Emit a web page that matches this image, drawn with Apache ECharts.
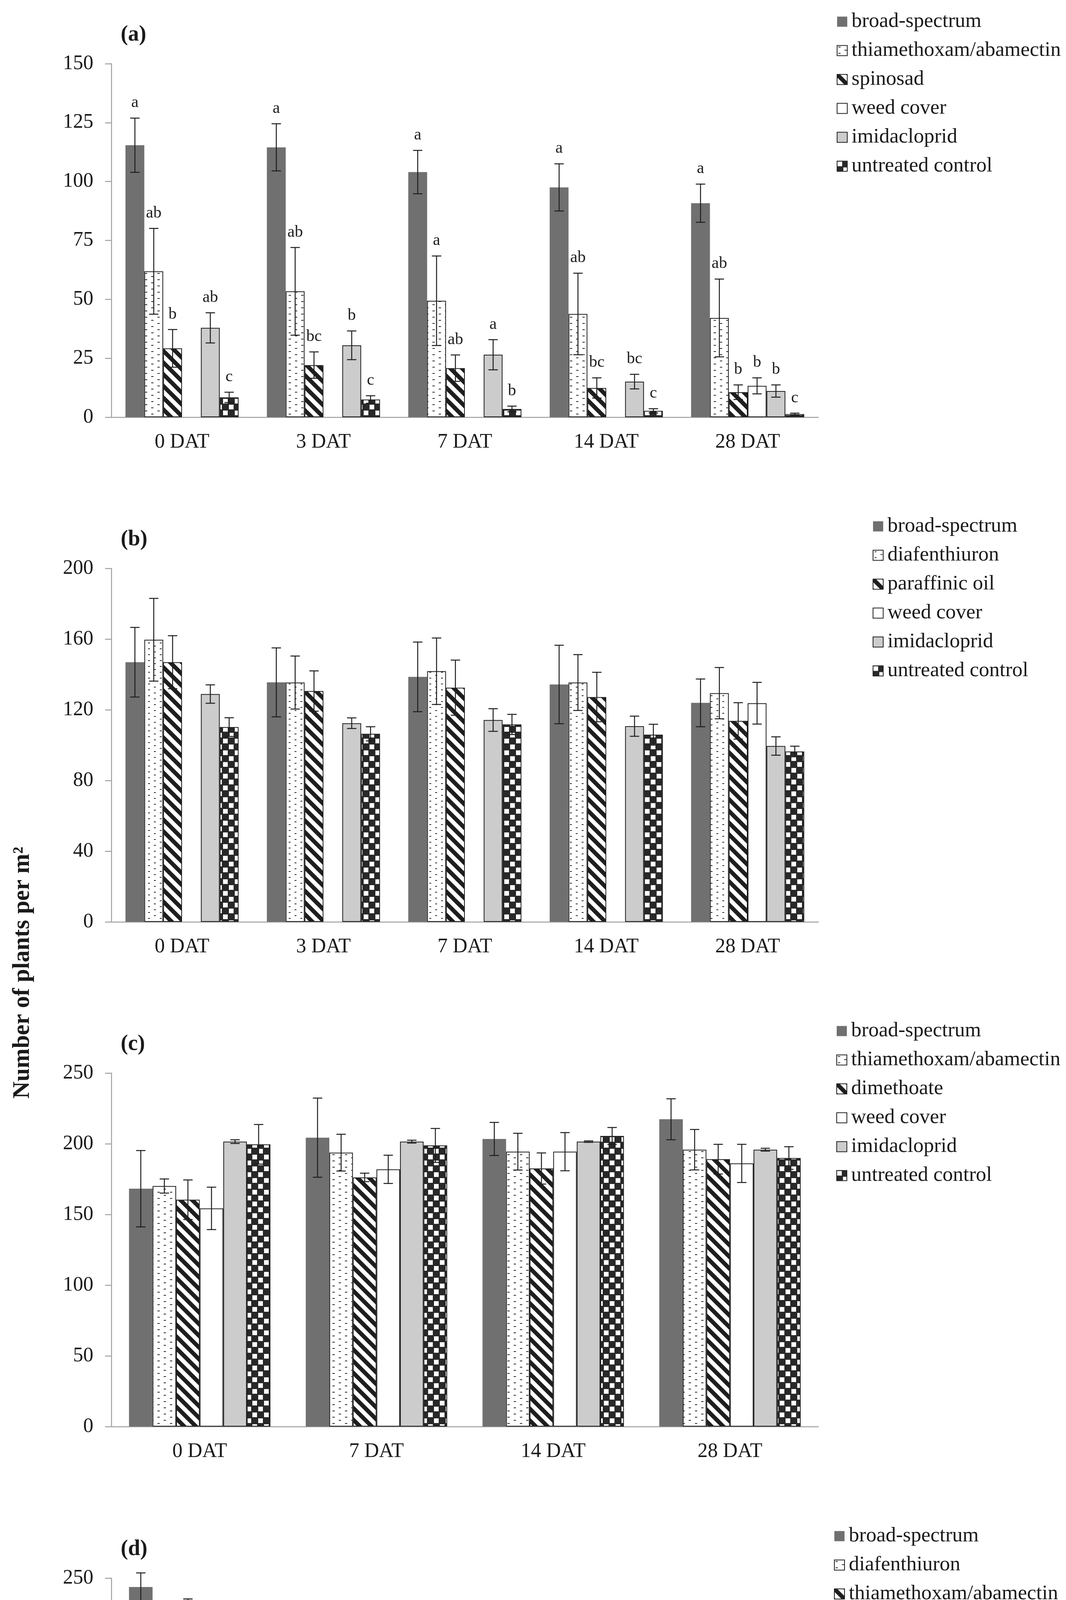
<!DOCTYPE html>
<html><head><meta charset="utf-8">
<script src="https://cdn.jsdelivr.net/npm/echarts@6/dist/echarts.min.js"></script>
<style>html,body{margin:0;padding:0;background:#fff}#c{width:2729px;height:5173px}</style>
</head><body><div id="c"></div>
<script>
// ---------- DATA ----------
const catsA = ['0 DAT','3 DAT','7 DAT','14 DAT','28 DAT'];
const namesA = ['broad-spectrum','thiamethoxam/abamectin','spinosad','weed cover','imidacloprid','untreated control'];
const meansA = [
  [115.4,114.5,104.0,97.5,90.8],
  [61.9,53.4,49.4,43.8,42.1],
  [29.2,22.1,20.8,12.4,10.6],
  [null,null,null,null,13.3],
  [37.9,30.5,26.5,15.1,11.1],
  [8.4,7.5,3.5,2.7,1.3]
];
const errA = [
  [11.5,10,9.2,10,8.1],
  [18.2,18.6,19,17.3,16.5],
  [8,5.6,5.6,4.3,3.1],
  [null,null,null,null,3.4],
  [6.4,6.1,6.4,3.1,2.6],
  [2.2,1.6,1.2,0.9,0.4]
];
const lettersA = [
  ['a','a','a','a','a'],
  ['ab','ab','a','ab','ab'],
  ['b','bc','ab','bc','b'],
  ['','','','','b'],
  ['ab','b','a','bc','b'],
  ['c','c','b','c','c']
];

const catsB = ['0 DAT','3 DAT','7 DAT','14 DAT','28 DAT'];
const namesB = ['broad-spectrum','diafenthiuron','paraffinic oil','weed cover','imidacloprid','untreated control'];
const meansB = [
  [146.9,135.5,138.6,134.3,123.9],
  [159.6,135.4,141.8,135.4,129.4],
  [146.9,130.6,132.5,127.2,113.7],
  [null,null,null,null,123.7],
  [128.9,112.4,114.2,110.7,99.5],
  [110.2,106.4,111.7,105.9,96.4]
];
const errB = [
  [19.7,19.5,19.7,22.2,13.5],
  [23.4,15,18.8,15.8,14.5],
  [15,11.4,15.6,14,10.3],
  [null,null,null,null,11.8],
  [5.2,3,6.4,5.7,5.2],
  [5.3,4,5.7,5.9,3]
];

const catsC = ['0 DAT','7 DAT','14 DAT','28 DAT'];
const namesC = ['broad-spectrum','thiamethoxam/abamectin','dimethoate','weed cover','imidacloprid','untreated control'];
const meansC = [
  [168.2,204.3,203.4,217.3],
  [170.1,193.7,194.4,195.8],
  [160.4,176.2,182.5,189.1],
  [154.3,181.9,194.4,186.1],
  [201.5,201.5,201.5,195.8],
  [199.6,198.8,205.5,189.9]
];
const errC = [
  [27,28,11.7,14.5],
  [5,13,13,14.3],
  [14,3,11,10.5],
  [15,10,13.5,13.5],
  [1.3,1,0.5,1],
  [14,12,6,8]
];

const catsD = ['0 DAT','7 DAT','14 DAT','28 DAT'];
const namesD = ['broad-spectrum','diafenthiuron','thiamethoxam/abamectin','weed cover','imidacloprid','untreated control'];
const meansD = [
  [243.7,208.3,212.7,212.0],
  [207.4,198.5,208.1,198.5],
  [231.8,216.2,207.4,205.0],
  [210.2,202.0,197.6,196.4],
  [191.1,209.5,226.0,198.5],
  [197.8,208.1,200.1,191.1]
];
const errD = [
  [10,9.4,9,8.5],
  [20.6,10.3,14,10.4],
  [3.5,13,7,5],
  [5.5,3,3,5.6],
  [1.2,1,1,1],
  [8,11.7,8,5.3]
];

// ---------- PATTERNS ----------
const INK = '#1e1e1e';
function makeCanvas(w,h,draw){const c=document.createElement('canvas');c.width=w;c.height=h;draw(c.getContext('2d'),w,h);return c;}
const stripeImg = makeCanvas(30,30,(g,w,h)=>{g.fillStyle='#fff';g.fillRect(0,0,w,h);g.strokeStyle=INK;g.lineWidth=10.6;g.lineCap='square';
  for(const o of [-30,0,30]){g.beginPath();g.moveTo(o-6,-6);g.lineTo(o+36,36);g.stroke();}});
const checkImg = makeCanvas(30,30,(g,w,h)=>{g.fillStyle='#282828';g.fillRect(0,0,w,h);g.fillStyle='#fff';g.fillRect(1,1,12,12);g.fillRect(16,16,12,12);});
const dashImg = makeCanvas(32,16,(g,w,h)=>{g.fillStyle='#fff';g.fillRect(0,0,w,h);g.fillStyle='#2a2a2a';g.fillRect(3,3,6,2);g.fillRect(19,11,6,2);});
const dotImg = makeCanvas(30,15,(g,w,h)=>{g.fillStyle='#fff';g.fillRect(0,0,w,h);g.fillStyle='#2a2a2a';g.fillRect(4,3,5,2);g.fillRect(19,10,5,2);});

function styleFor(kind){
  switch(kind){
    case 'solid': return {color:'#707070', borderWidth:0};
    case 'dash': return {color:{image:dashImg,repeat:'repeat'}, borderColor:INK, borderWidth:2};
    case 'dot': return {color:{image:dotImg,repeat:'repeat'}, borderColor:INK, borderWidth:2};
    case 'stripe': return {color:{image:stripeImg,repeat:'repeat'}, borderColor:INK, borderWidth:2};
    case 'white': return {color:'#ffffff', borderColor:INK, borderWidth:2};
    case 'gray': return {color:'#cccccc', borderColor:INK, borderWidth:2};
    case 'checker': return {color:{image:checkImg,repeat:'repeat'}, borderColor:INK, borderWidth:2};
  }
}

const panels = [
  {key:'a', tag:'(a)', cats:catsA, names:namesA, means:meansA, errs:errA, letters:lettersA, max:150, interval:25,
   kinds:['solid','dash','stripe','white','gray','checker'], top:163, legendLeft:2137},
  {key:'b', tag:'(b)', cats:catsB, names:namesB, means:meansB, errs:errB, letters:null, max:200, interval:40,
   kinds:['solid','dot','stripe','white','gray','checker'], top:1455, legendLeft:2229},
  {key:'c', tag:'(c)', cats:catsC, names:namesC, means:meansC, errs:errC, letters:null, max:250, interval:50,
   kinds:['solid','dash','stripe','white','gray','checker'], top:2747, legendLeft:2136},
  {key:'d', tag:'(d)', cats:catsD, names:namesD, means:meansD, errs:errD, letters:null, max:250, interval:50,
   kinds:['solid','dash','stripe','white','gray','checker'], top:4040, legendLeft:2130}
];

const FONT = '"Liberation Serif", "Times New Roman", serif';
const grid=[], xAxis=[], yAxis=[], series=[], legend=[], graphic=[];
const PH = 905;

panels.forEach((p, pi)=>{
  grid.push({left:285, width:1810, top:p.top, height:PH});
  xAxis.push({type:'category', gridIndex:pi, data:p.cats,
    axisTick:{show:false},
    axisLine:{lineStyle:{color:'#a0a0a0', width:2.5}},
    axisLabel:{fontFamily:FONT, fontSize:52, color:'#1a1a1a', margin:38}});
  yAxis.push({type:'value', gridIndex:pi, min:0, max:p.max, interval:p.interval,
    splitLine:{show:false},
    axisLine:{show:true, lineStyle:{color:'#a0a0a0', width:2.5}},
    axisTick:{show:true, length:16, lineStyle:{color:'#a0a0a0', width:2.5}},
    axisLabel:{fontFamily:FONT, fontSize:52, color:'#1a1a1a', margin:46}});
  const nSer = p.names.length;
  p.names.forEach((nm,k)=>{
    series.push({type:'bar', name:p.key+'|'+nm, xAxisIndex:pi, yAxisIndex:pi,
      barGap:'0%', barCategoryGap:'20%', z:2,
      itemStyle:styleFor(p.kinds[k]),
      data:p.means[k].map(v=> v==null ? '-' : v)});
  });
  const items=[];
  p.means.forEach((arr,k)=>arr.forEach((m,i)=>{
    if(m==null) return;
    const e=p.errs[k][i];
    items.push({value:[i,k,m-e,m+e], letter: p.letters ? p.letters[k][i] : ''});
  }));
  series.push({type:'custom', name:p.key+'-err', xAxisIndex:pi, yAxisIndex:pi, z:5, clip:false,
    encode:{x:0, y:[2,3]},
    data:items.map(it=>it.value),
    renderItem:(params, api)=>{
      const it = items[params.dataIndex];
      const cat=api.value(0), k=api.value(1), lo=api.value(2), hi=api.value(3);
      const c=api.coord([cat,0]);
      const catW=api.size([1,0])[0];
      const barW=catW*0.8/nSer;
      const x=c[0]-catW*0.4+(k+0.5)*barW;
      const yHi=api.coord([cat,hi])[1], yLo=api.coord([cat,lo])[1];
      const cap=12;
      const ls={stroke:INK, lineWidth:2.5};
      const ch=[
        {type:'line', shape:{x1:x,y1:yHi,x2:x,y2:yLo}, style:ls},
        {type:'line', shape:{x1:x-cap,y1:yHi,x2:x+cap,y2:yHi}, style:ls},
        {type:'line', shape:{x1:x-cap,y1:yLo,x2:x+cap,y2:yLo}, style:ls}
      ];
      if(it.letter){
        ch.push({type:'text', x:x, y:yHi-18, style:{text:it.letter, font:'42px '+FONT, fill:INK,
          align:'center', verticalAlign:'bottom', textAlign:'center', textVerticalAlign:'bottom'}});
      }
      return {type:'group', children:ch};
    }});
  legend.push({orient:'vertical', left:p.legendLeft, top:p.top-139, itemWidth:26, itemHeight:26, itemGap:21,
    selectedMode:false, icon:'rect',
    data:p.names.map(nm=>p.key+'|'+nm),
    formatter:(n)=>n.split('|')[1],
    textStyle:{fontFamily:FONT, fontSize:53, color:'#1a1a1a', lineHeight:53, padding:[0,0,0,6]}});
  graphic.push({type:'text', left:309, top:p.top-71-30, style:{text:p.tag, font:'bold 56px '+FONT, fill:'#1a1a1a'}});
});

graphic.push({type:'text', x:58, y:2490, rotation:Math.PI/2,
  style:{text:'Number of plants per m²', font:'bold 61px '+FONT, fill:'#1a1a1a',
    align:'center', verticalAlign:'middle', textAlign:'center', textVerticalAlign:'middle'}});
graphic.push({type:'text', x:1163, y:5113,
  style:{text:'Sampling date', font:'bold 62px '+FONT, fill:'#1a1a1a',
    align:'center', verticalAlign:'middle', textAlign:'center', textVerticalAlign:'middle'}});

const chart = echarts.init(document.getElementById('c'), null, {renderer:'canvas'});
chart.setOption({backgroundColor:'#ffffff', animation:false, grid, xAxis, yAxis, series, legend, graphic});
</script></body></html>
